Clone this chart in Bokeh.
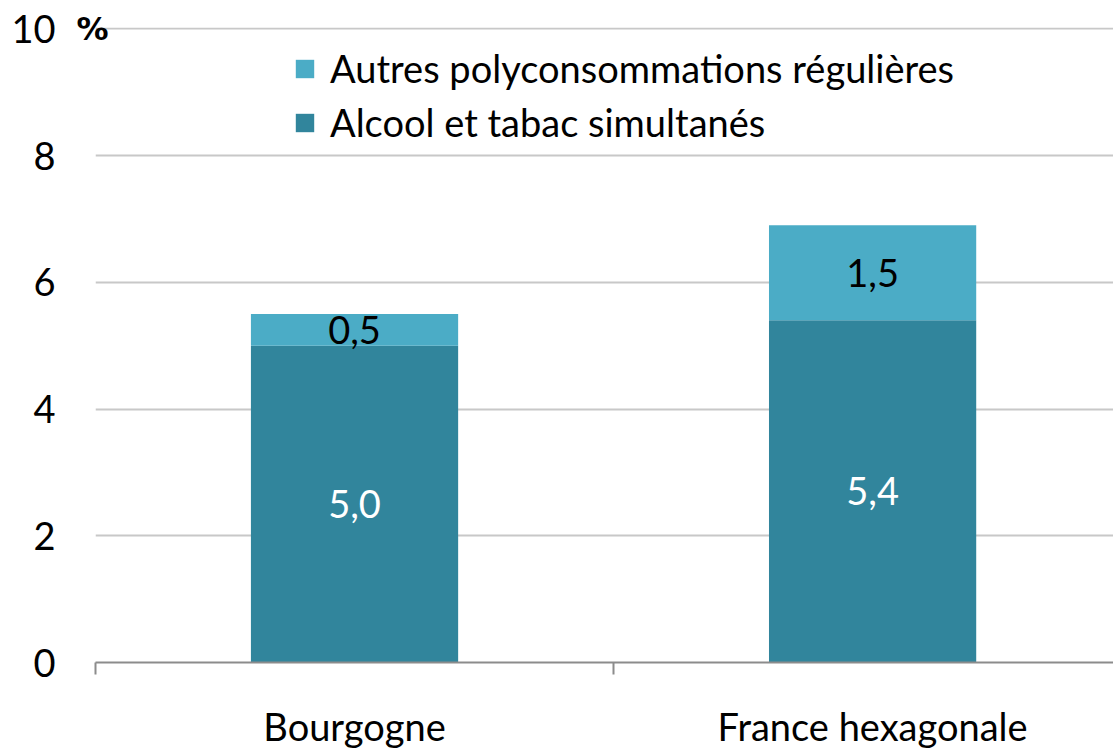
from bokeh.plotting import figure
from bokeh.models import (Range1d, FixedTicker, ColumnDataSource, Legend, LegendItem,
                          LabelSet, LinearAxis)
from bokeh.core.properties import value
from bokeh.embed import file_html
from bokeh.resources import INLINE

categories = ["Bourgogne", "France hexagonale"]
alcool_tabac = [5.0, 5.4]
autres = [0.5, 1.5]
label_alcool = ["5,0", "5,4"]
label_autres = ["0,5", "1,5"]
y_ticks = [0, 2, 4, 6, 8, 10]
unit = "%"

FONT = "Lato"
FS = "38px"
DARK = "#31859C"
LIGHT = "#4BACC6"

x = [0.5 + i for i in range(len(categories))]
top1 = alcool_tabac
top2 = [a + b for a, b in zip(alcool_tabac, autres)]
src = ColumnDataSource(dict(
    x=x, b0=[0] * len(x), t1=top1, t2=top2,
    m1=[t / 2 for t in top1],
    m2=[a + b / 2 for a, b in zip(alcool_tabac, autres)],
    l1=label_alcool, l2=label_autres,
))

p = figure(width=1113, height=751, output_backend="svg", toolbar_location=None,
           x_range=Range1d(0, 1.965), y_range=Range1d(0, 10.02),
           min_border_left=95, min_border_right=0, min_border_top=27, min_border_bottom=87)
p.outline_line_color = None
p.background_fill_color = "white"
p.border_fill_color = "white"

r1 = p.vbar(x="x", bottom="b0", top="t1", width=0.4, source=src, fill_color=DARK, line_color=None)
r2 = p.vbar(x="x", bottom="t1", top="t2", width=0.4, source=src, fill_color=LIGHT, line_color=None)

p.add_layout(LabelSet(x="x", y="m1", text="l1", source=src, text_align="center",
                      text_baseline="middle", text_color="white", text_font=value(FONT),
                      text_font_size=FS))
p.add_layout(LabelSet(x="x", y="m2", text="l2", source=src, text_align="center",
                      text_baseline="middle", text_color="black", text_font=value(FONT),
                      text_font_size=FS))

# y axis (numbers)
main_y = p.left[0]
main_y.ticker = FixedTicker(ticks=y_ticks, minor_ticks=[])
main_y.axis_line_color = None
main_y.major_tick_line_color = None
main_y.minor_tick_line_color = None
main_y.major_label_text_font = FONT
main_y.major_label_text_font_size = FS
main_y.major_label_text_color = "black"
main_y.major_label_standoff = 12

# unit axis (bold %), next to the frame
pct_axis = LinearAxis(ticker=FixedTicker(ticks=[y_ticks[-1]], minor_ticks=[]),
                      major_label_overrides={y_ticks[-1]: unit},
                      axis_line_color=None, major_tick_line_color=None,
                      minor_tick_line_color=None,
                      major_label_text_font="DejaVu Sans", major_label_text_font_size="32px",
                      major_label_text_font_style="bold",
                      major_label_text_color="black", major_label_standoff=-19)
p.left = [pct_axis, main_y]

p.ygrid.ticker = FixedTicker(ticks=y_ticks[1:])
p.ygrid.grid_line_color = "#C8C8C8"
p.ygrid.grid_line_width = 2
p.xgrid.grid_line_color = None

# x axis
p.xaxis.ticker = FixedTicker(ticks=x, minor_ticks=[0, 1, 2])
p.xaxis.major_label_overrides = {xx: c for xx, c in zip(x, categories)}
p.xaxis.major_tick_line_color = None
p.xaxis.minor_tick_out = 12
p.xaxis.minor_tick_in = 0
p.xaxis.minor_tick_line_color = "#8C8C8C"
p.xaxis.minor_tick_line_width = 2
p.xaxis.axis_line_color = "#8C8C8C"
p.xaxis.axis_line_width = 2
p.xaxis.major_label_text_font = FONT
p.xaxis.major_label_text_font_size = FS
p.xaxis.major_label_text_color = "black"
p.xaxis.major_label_standoff = 28

legend = Legend(items=[LegendItem(label="Autres polyconsommations régulières", renderers=[r2]),
                       LegendItem(label="Alcool et tabac simultanés", renderers=[r1])],
                location=(198, 517), orientation="vertical",
                label_text_font=FONT, label_text_font_size=FS, label_text_color="black",
                glyph_width=23, glyph_height=23, label_standoff=14,
                spacing=8, padding=0, margin=0, border_line_color=None,
                background_fill_alpha=0)
p.add_layout(legend)

open("out.html", "w").write(file_html(p, INLINE))
